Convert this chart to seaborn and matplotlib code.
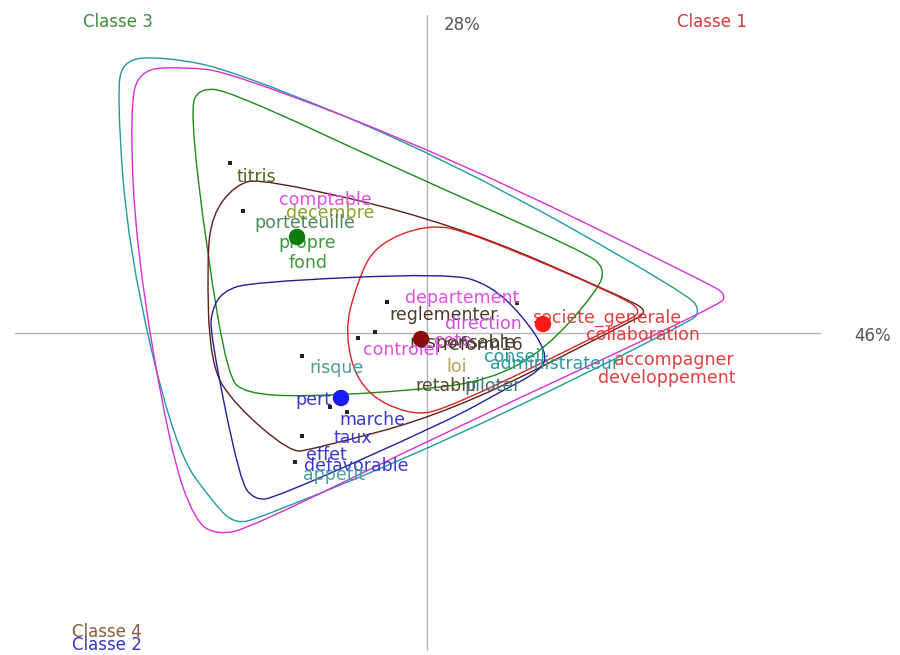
import numpy as np
import matplotlib
matplotlib.use("Agg")
import matplotlib.pyplot as plt
from matplotlib.path import Path
from matplotlib.patches import PathPatch
import seaborn as sns

# ==========================================
# 1. Data (factor coordinates)
# ==========================================
AXIS_1_LABEL = "46%"
AXIS_2_LABEL = "28%"

class_names = ["Classe 1", "Classe 2", "Classe 3", "Classe 4"]
class_x = [1.16, -0.86, -1.30, -0.06]
class_y = [0.09, -0.65, 0.96, -0.06]

words = ["titris", "comptable", "decembre", "porteteuille", "propre", "fond",
         "departement", "reglementer", "direction", "societe_generale",
         "collaboration", "accompagner", "developpement",
         "responsable", "controler", "cote", "reform16", "loi", "retablir",
         "piloter", "conseil", "administrateur",
         "risque", "pert", "marche", "taux", "effet", "defavorable", "appetit"]
word_x = [-1.71, -1.02, -0.97, -1.22, -1.20, -1.19,
          0.35, 0.17, 0.56, 1.80,
          2.16, 2.47, 2.40,
          0.36, -0.25, 0.26, 0.56, 0.30, 0.20,
          0.66, 0.88, 1.28,
          -0.90, -1.14, -0.55, -0.74, -1.01, -0.71, -0.93]
word_y = [1.56, 1.33, 1.20, 1.10, 0.90, 0.70,
          0.35, 0.18, 0.09, 0.15,
          -0.02, -0.27, -0.45,
          -0.10, -0.17, -0.08, -0.12, -0.34, -0.53,
          -0.53, -0.24, -0.31,
          -0.35, -0.67, -0.87, -1.05, -1.22, -1.33, -1.42]

# supplementary points (small dots)
supp_x = [-1.97, -1.84, -0.40, -0.52, -0.69, -1.25, -0.97, -0.80, -1.25, -1.32, 0.90]
supp_y = [1.70, 1.22, 0.31, 0.01, -0.05, -0.23, -0.74, -0.79, -1.03, -1.29, 0.30]

# contour outlines (control polygons)
teal_x = [-3.10, -3.04, -2.62, -1.94, 0.23, 2.63, 2.73, 2.63, 0.23, -1.67, -1.92, -2.12, -2.52, -2.99]
teal_y = [2.38, 2.74, 2.76, 2.63, 1.73, 0.38, 0.21, 0.11, -1.07, -1.85, -1.91, -1.72, -1.17, 0.83]

magenta_x = [-2.97, -2.88, -2.42, -1.97, 0.23, 2.85, 2.99, 2.93, 0.23, -1.77, -2.09, -2.32, -2.57, -2.91]
magenta_y = [2.23, 2.64, 2.66, 2.61, 1.76, 0.48, 0.38, 0.28, -0.97, -1.95, -2.02, -1.89, -1.17, 0.83]

green_x = [-2.37, -2.28, -1.97, -0.27, 1.58, 1.78, 1.71, 1.18, 0.63, -0.07, -1.27, -1.82, -1.99, -2.20]
green_y = [2.23, 2.45, 2.42, 1.63, 0.81, 0.65, 0.43, -0.17, -0.47, -0.57, -0.64, -0.60, -0.44, 0.80]

brown_x = [-2.15, -1.92, -1.65, 0.23, 2.03, 2.21, 2.03, 0.23, -1.17, -1.37, -1.92, -2.17, -2.20]
brown_y = [1.18, 1.48, 1.55, 1.11, 0.33, 0.21, 0.11, -0.80, -1.17, -1.19, -0.72, -0.32, 0.73]

red_x = [-0.52, 0.00, 0.43, 1.98, 2.15, 1.98, 0.23, -0.17, -0.67, -0.83, -0.70]
red_y = [0.88, 1.09, 1.01, 0.35, 0.21, 0.11, -0.75, -0.83, -0.57, 0.00, 0.50]

blue_x = [-2.15, -2.05, -1.77, 0.23, 0.63, 0.95, 1.20, 1.15, 0.73, 0.23, -1.52, -1.72, -1.87, -2.17]
blue_y = [0.23, 0.41, 0.51, 0.60, 0.48, 0.18, -0.19, -0.37, -0.59, -0.87, -1.65, -1.67, -1.49, 0.00]

# ==========================================
# 2. Styles
# ==========================================
class_palette = {"Classe 1": "#ff1a1a", "Classe 2": "#1a1aff",
                 "Classe 3": "#0a7d0a", "Classe 4": "#8b0a0a"}
class_label_colors = {"Classe 1": "#d83a3a", "Classe 2": "#3535c0",
                      "Classe 3": "#3c8c3c", "Classe 4": "#8a5a3a"}

word_colors = ["#4a6a20", "#e050e0", "#8aa030", "#4a8a5a", "#3a9a3a", "#3a9a3a",
               "#e050e0", "#4a3a2a", "#d050e0", "#e04040",
               "#e04040", "#e04040", "#e04040",
               "#4a3a2a", "#e050e0", "#e050e0", "#4a3a2a", "#b8a050", "#5a4a2a",
               "#3a7a7a", "#2a9a9a", "#2a9a9a",
               "#4a9a9a", "#3a3ad0", "#3a3ad0", "#3a3ad0", "#3a3ad0", "#3a3ad0", "#4aa0a0"]

contours = [
    (teal_x, teal_y, "#1f9a9a"),
    (magenta_x, magenta_y, "#d62fd6"),
    (green_x, green_y, "#1a8a1a"),
    (brown_x, brown_y, "#5c1f14"),
    (red_x, red_y, "#dd2222"),
    (blue_x, blue_y, "#20209a"),
]

sns.set_theme(style="white")
plt.rcParams["font.family"] = ["DejaVu Sans"]
FONT_SIZE = 12.5


# ==========================================
# 3. Helpers
# ==========================================
def smooth_closed_path(xs, ys):
    """Closed quadratic Bezier through the mid points of a control polygon."""
    pts = np.column_stack([xs, ys])
    mids = (pts + np.roll(pts, -1, axis=0)) / 2
    verts = [mids[-1]]
    codes = [Path.MOVETO]
    for i in range(len(pts)):
        verts += [pts[i], mids[i]]
        codes += [Path.CURVE3, Path.CURVE3]
    return Path(verts, codes)


# ==========================================
# 4. Plot
# ==========================================
fig = plt.figure(figsize=(9, 6.55), dpi=100)
ax = fig.add_axes([0, 0, 1, 1])
ax.set_xlim(-4.27, 4.73)
ax.set_ylim(-3.22, 3.33)
ax.axis("off")

ax.axhline(0, xmin=15 / 900, xmax=820 / 900, color="#b4b4b4", lw=1, zorder=1)
ax.axvline(0, ymin=5 / 655, ymax=640 / 655, color="#b4b4b4", lw=1, zorder=1)

for xs, ys, col in contours:
    ax.add_patch(PathPatch(smooth_closed_path(xs, ys), fill=False,
                           edgecolor=col, lw=1.0, zorder=2))

sns.scatterplot(x=supp_x, y=supp_y, color="#222222", s=6, marker="s",
                edgecolor="none", ax=ax, zorder=3)

for w, x, y, c in zip(words, word_x, word_y, word_colors):
    ax.text(x, y, w, color=c, fontsize=FONT_SIZE, ha="center", va="center", zorder=4)

sns.scatterplot(x=class_x, y=class_y, hue=class_names, palette=class_palette,
                s=140, edgecolor="none", legend=False, ax=ax, zorder=5)

ax.text(0.513, 0.962, AXIS_2_LABEL, transform=ax.transAxes, color="#555555",
        fontsize=12, ha="center", va="center")
ax.text(0.969, 0.487, AXIS_1_LABEL, transform=ax.transAxes, color="#555555",
        fontsize=12, ha="center", va="center")

label_pos = {"Classe 3": (0.131, 0.966), "Classe 1": (0.791, 0.966),
             "Classe 4": (0.119, 0.035), "Classe 2": (0.119, 0.015)}
for name, (lx, ly) in label_pos.items():
    ax.text(lx, ly, name, transform=ax.transAxes, color=class_label_colors[name],
            fontsize=12, ha="center", va="center")

fig.savefig("out.png", dpi=100, facecolor="white")
